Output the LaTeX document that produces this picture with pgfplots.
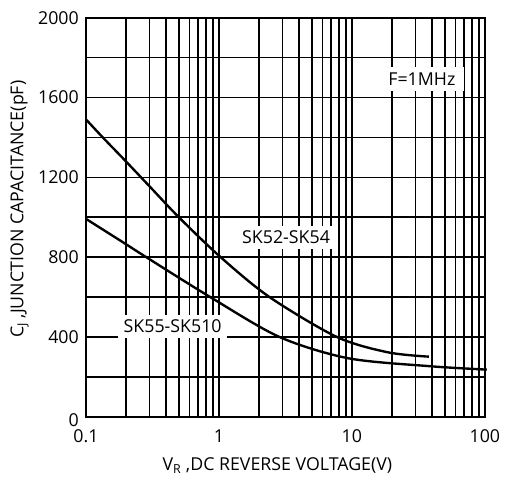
\documentclass[border=0pt]{standalone}
\usepackage{fontspec}
\setmainfont{Open Sans}
\usepackage{pgfplots}
\pgfplotsset{compat=1.18}
\begin{document}
\fontsize{18}{21}\selectfont
\begin{tikzpicture}
\begin{axis}[
  name=ax,
  scale only axis, width=404pt, height=404pt,
  xmode=log, xmin=0.1, xmax=100,
  ymin=0, ymax=2000,
  xtick={0.1,1,10,100}, xticklabels={0.1,1,10,100},
  ytick={0,400,800,1200,1600,2000},
  yticklabels={{\raisebox{-9.5pt}[0pt][0pt]{0}\hspace{14pt}},400,800,1200,1600,2000},
  minor ytick={200,600,1000,1400,1800},
  grid=both,
  major grid style={black, line width=1.6pt},
  minor grid style={black, line width=1.6pt},
  axis line style={black, line width=1.8pt},
  major tick length=0pt, minor tick length=0pt,
  tick label style={font=\fontsize{18}{21}\selectfont},
  xticklabel style={yshift=-7pt},
  yticklabel style={xshift=-1pt},
  xlabel={V\textsubscript{R} ,DC REVERSE VOLTAGE(V)},
  ylabel={C\textsubscript{J} ,JUNCTION CAPACITANCE(pF)},
  label style={font=\fontsize{18}{21}\selectfont},
  xlabel style={at={(rel axis cs:0.48,-0.122)}, anchor=center},
  ylabel style={at={(rel axis cs:-0.166,0.52)}, anchor=center},
  clip=false,
]
\addplot[black, line width=2.4pt, smooth] coordinates {
  (0.1,1491) (0.134,1400) (0.2,1280) (0.3,1156) (0.5,1000) (1.03,800)
  (2.4,600) (7.7,400) (18.6,323) (38,301)
};
\addplot[black, line width=2.4pt, smooth] coordinates {
  (0.1,992) (0.2,865) (0.284,800) (0.86,600) (2.85,400) (9.4,293)
  (38.9,253) (96.6,237) (100,236)
};
\node[fill=white, inner xsep=9pt, inner ysep=6pt] at (axis cs:33.6,1694) {F=1MHz};
\node[fill=white, inner xsep=6pt, inner ysep=5pt] at (axis cs:3.2,899) {SK52-SK54};
\node[fill=white, inner xsep=6pt, inner ysep=5pt] at (axis cs:0.449,454) {SK55-SK510};
\end{axis}
\useasboundingbox ([xshift=-87pt,yshift=-62pt]ax.south west) rectangle ([xshift=15pt,yshift=18pt]ax.north east);
\end{tikzpicture}
\end{document}
